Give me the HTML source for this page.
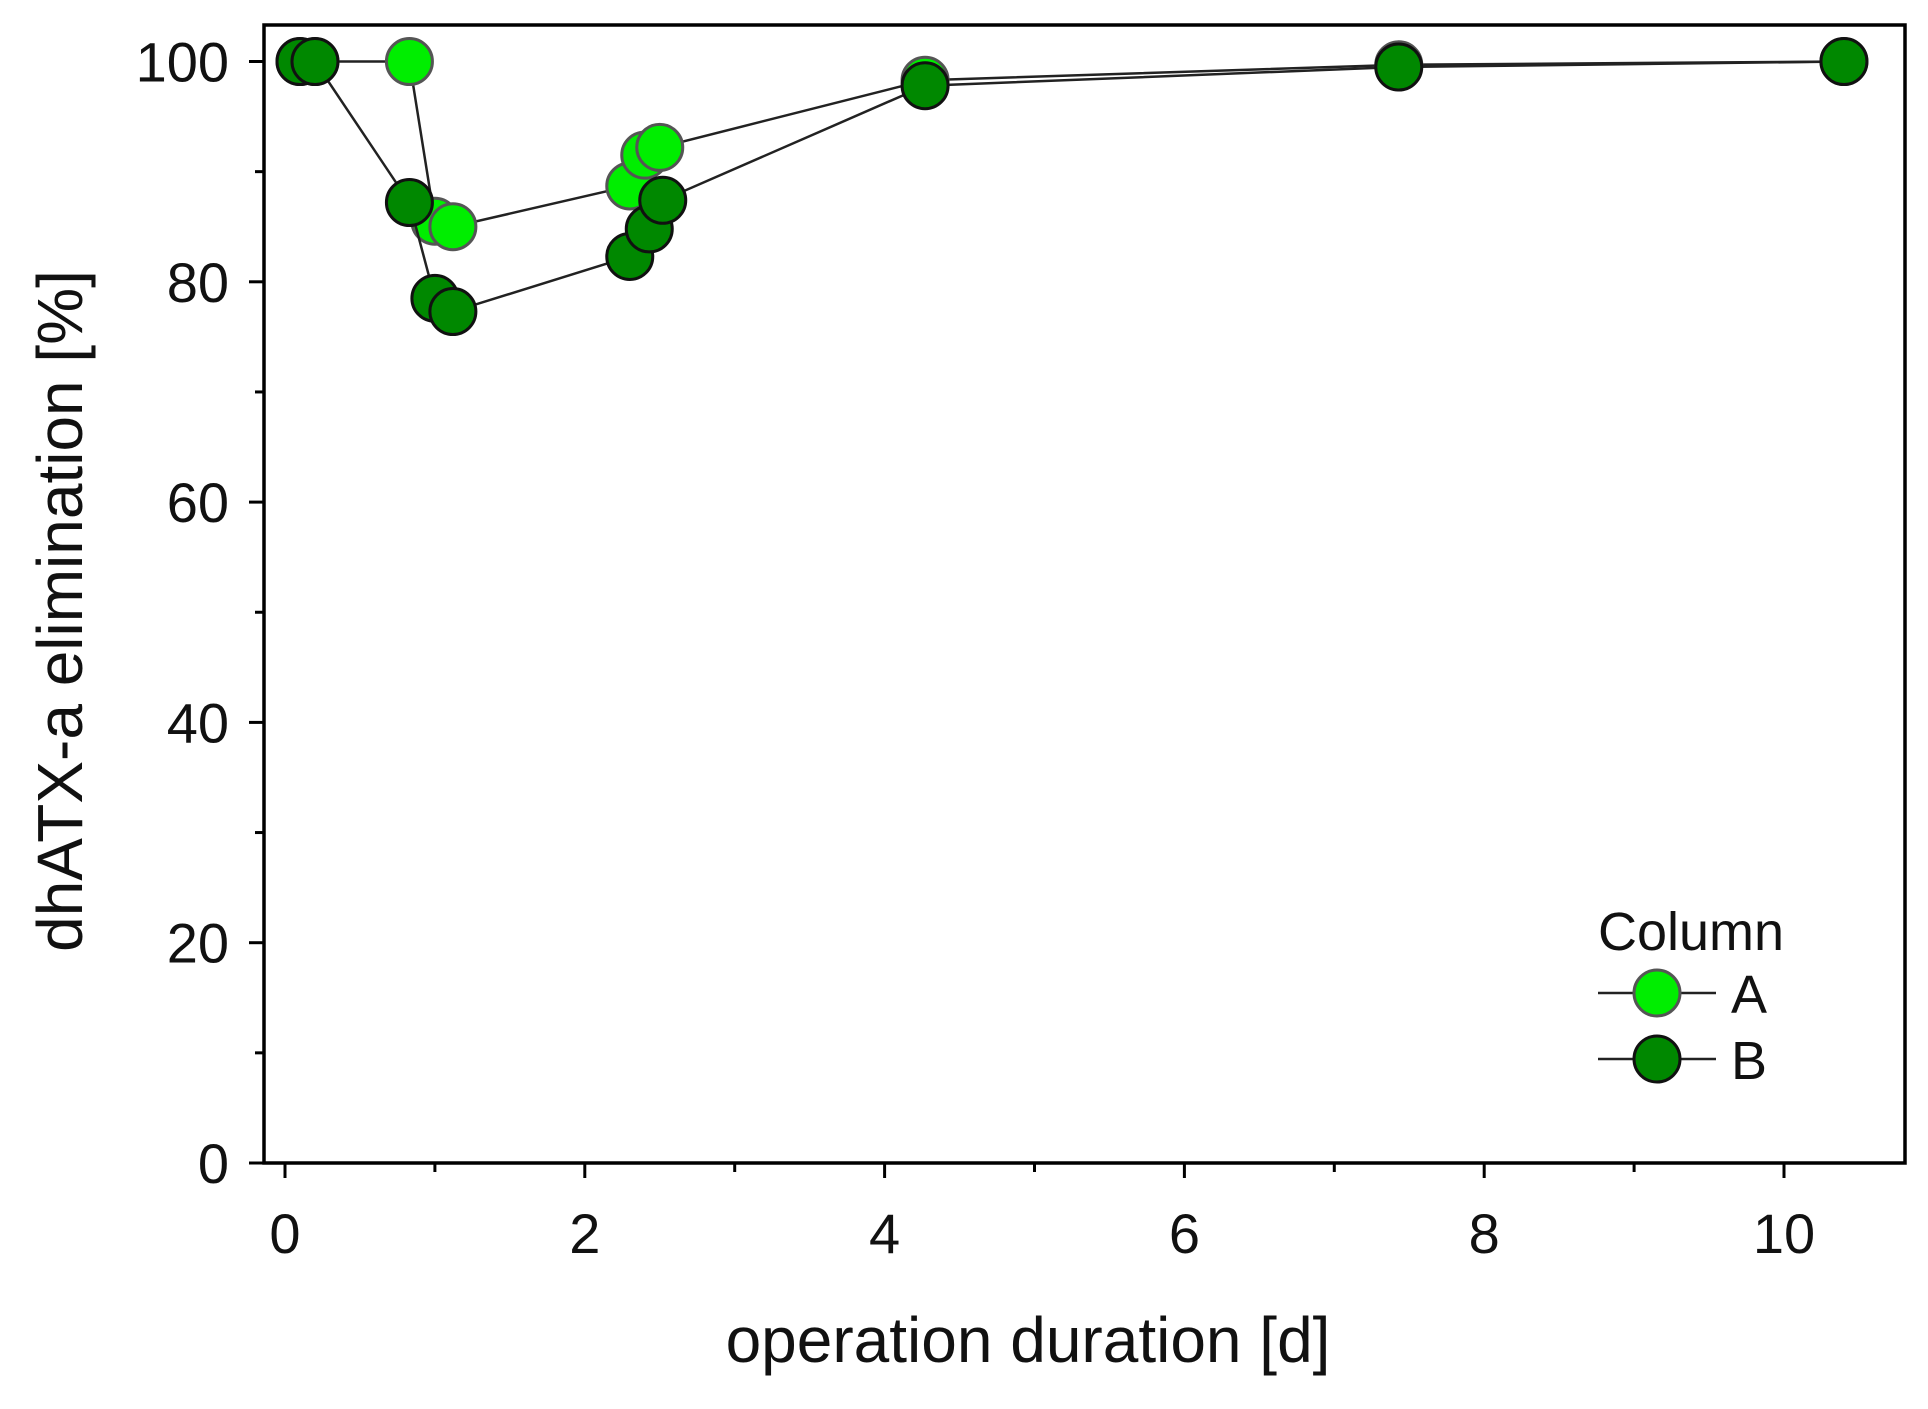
<!DOCTYPE html>
<html><head><meta charset="utf-8"><style>
html,body{margin:0;padding:0;background:#fff;}
svg text{font-family:"Liberation Sans",Arial,sans-serif;fill:#111;}
</style></head><body>
<svg id="chart" width="1928" height="1404" viewBox="0 0 1928 1404" xmlns="http://www.w3.org/2000/svg">
<rect x="0" y="0" width="1928" height="1404" fill="#fff"/>
<g id="plot"></g>
</svg>
<script>
const daysA = [0.1, 0.2, 0.83, 1.0, 1.12, 2.3, 2.4, 2.5, 4.27, 7.43, 10.4];
const valuesA = [100, 100, 100, 85.5, 85, 88.7, 91.5, 92.2, 98.3, 99.7, 100];
const daysB = [0.1, 0.2, 0.83, 1.0, 1.12, 2.3, 2.43, 2.52, 4.27, 7.43, 10.4];
const valuesB = [100, 100, 87.2, 78.5, 77.3, 82.3, 84.8, 87.4, 97.8, 99.5, 100];
const xTicks = [0, 2, 4, 6, 8, 10];
const yTicks = [0, 20, 40, 60, 80, 100];

const NS = 'http://www.w3.org/2000/svg';
const g = document.getElementById('plot');
const L = 264, R = 1905, T = 25, B = 1163;
function xs(d){ return 285 + d * 149.9; }
function ys(v){ return 1163 - v * 11.015; }
function mk(tag, attrs, parent){
  const e = document.createElementNS(NS, tag);
  for (const k in attrs) e.setAttribute(k, attrs[k]);
  (parent || g).appendChild(e);
  return e;
}
let e;
e = mk('rect', {x:L, y:T, width:R-L, height:B-T, fill:'none', stroke:'#000', 'stroke-width':3.5});


for (let d = 0; d <= 10.8; d += 1) {
  const major = d % 2 === 0;
  e = mk('line', {x1:xs(d), x2:xs(d), y1:B, y2:B + (major ? 15 : 9), stroke:'#000', 'stroke-width':3});
  
  
}
xTicks.forEach(t => {
  e = mk('text', {x:xs(t), y:1253, 'text-anchor':'middle', 'font-size':56});
  e.textContent = t;
  
  
});
for (let v = 0; v <= 100; v += 10) {
  const major = v % 20 === 0;
  e = mk('line', {x1:L - (major ? 15 : 9), x2:L, y1:ys(v), y2:ys(v), stroke:'#000', 'stroke-width':3});
  
  
}
yTicks.forEach(t => {
  e = mk('text', {x:229, y:ys(t) + 20, 'text-anchor':'end', 'font-size':56});
  e.textContent = t;
  
  
});
e = mk('text', {x:1028, y:1362, 'text-anchor':'middle', 'font-size':64});
e.textContent = 'operation duration [d]';


e = mk('text', {x:0, y:0, 'text-anchor':'middle', 'font-size':64, transform:'translate(82,611) rotate(-90)'});
e.textContent = 'dhATX-a elimination [%]';


function series(xsArr, vals, fill, stroke, name){
  const pts = xsArr.map((d,i) => xs(d) + ',' + ys(vals[i])).join(' ');
  e = mk('polyline', {points:pts, fill:'none', stroke:'#222', 'stroke-width':2.5});
  
  
  xsArr.forEach((d,i) => {
    e = mk('circle', {cx:xs(d), cy:ys(vals[i]), r:23, fill:fill, stroke:stroke, 'stroke-width':3});
    
    
  });
}
series(daysA, valuesA, '#00ee00', '#555', 'series-a');
series(daysB, valuesB, '#008800', '#111', 'series-b');
e = mk('text', {x:1598, y:950, 'font-size':54});
e.textContent = 'Column';


[['A', '#00ee00', '#555', 993], ['B', '#008800', '#111', 1059]].forEach(([lab, f, s, y]) => {
  e = mk('line', {x1:1598, x2:1716, y1:y, y2:y, stroke:'#222', 'stroke-width':2.5});
  
  
  e = mk('circle', {cx:1657, cy:y, r:23, fill:f, stroke:s, 'stroke-width':3});
  
  
  e = mk('text', {x:1731, y:y + 20, 'font-size':54});
  e.textContent = lab;
  
  
});
</script>
</body></html>
